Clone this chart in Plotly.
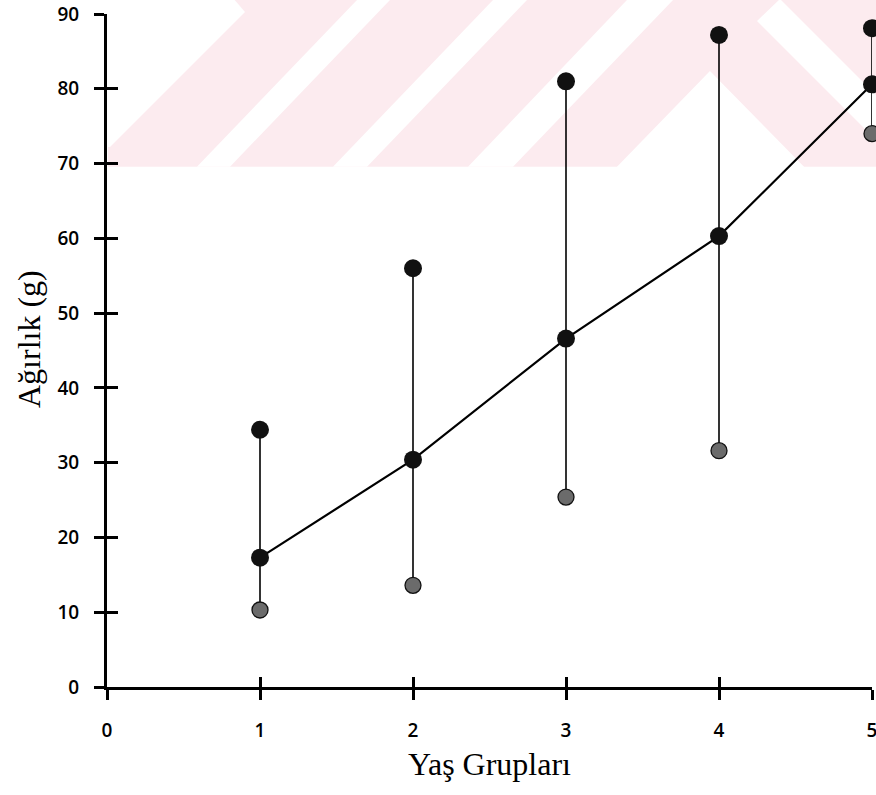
import plotly.graph_objects as go

# Age groups and body weight (g): group mean, maximum and minimum
age_groups = [1, 2, 3, 4, 5]
weight_mean = [17.3, 30.4, 46.6, 60.3, 80.6]
weight_max = [34.4, 56.0, 81.0, 87.2, 88.1]
weight_min = [10.3, 13.6, 25.4, 31.6, 74.0]

x_ticks = [0, 1, 2, 3, 4, 5]
y_ticks = [0, 10, 20, 30, 40, 50, 60, 70, 80, 90]

W, H = 876, 795
ML, MR, MT, MB = 107, 4, 14, 108


def to_paper(px, py):
    """Pixel position on the page -> paper coordinates of the plot area."""
    return (px - ML) / (W - ML - MR), (H - MB - py) / (H - MT - MB)


def poly_path(points):
    pts = [to_paper(px, py) for px, py in points]
    return "M " + " L ".join(f"{x:.4f},{y:.4f}" for x, y in pts) + " Z"


# light pink striped background band along the top of the page
BAND_BOTTOM = 166.7
PINK = "rgb(252,235,239)"
band = [(108, 0), (W + 10, 0), (W + 10, BAND_BOTTOM), (108, BAND_BOTTOM)]
gaps = [
    [(100, -2), (233, -2), (245, 12), (110, 147), (100, 147)],
    [(197, BAND_BOTTOM), (230, BAND_BOTTOM), (390, 0), (357, 0)],
    [(333, BAND_BOTTOM), (367, BAND_BOTTOM), (527, 0), (493, 0)],
    [(468, BAND_BOTTOM), (513, BAND_BOTTOM), (673, 0), (627, 0)],
    [(616, BAND_BOTTOM + 1), (710, 71), (805, BAND_BOTTOM + 1)],
    [(757, 21), (780, -1), (905, 124), (905, 169)],
]

shapes = [dict(type="path", path=poly_path(band), xref="paper", yref="paper",
               fillcolor=PINK, line=dict(width=0), layer="below")]
for g in gaps:
    shapes.append(dict(type="path", path=poly_path(g), xref="paper", yref="paper",
                       fillcolor="white", line=dict(width=0), layer="below"))

# vertical min-max range lines
range_x, range_y = [], []
for g, lo, hi in zip(age_groups, weight_min, weight_max):
    range_x += [g, g, None]
    range_y += [lo, hi, None]

fig = go.Figure()
fig.add_trace(go.Scatter(x=range_x, y=range_y, mode="lines",
                         line=dict(color="black", width=1.6),
                         hoverinfo="skip", cliponaxis=False))
fig.add_trace(go.Scatter(x=age_groups, y=weight_mean, mode="lines",
                         line=dict(color="black", width=2.2), cliponaxis=False))
fig.add_trace(go.Scatter(x=age_groups, y=weight_min, mode="markers", xaxis="x2", yaxis="y2",
                         marker=dict(size=16, color="#6b6b6b",
                                     line=dict(color="#111111", width=1.3)),
                         cliponaxis=False))
fig.add_trace(go.Scatter(x=age_groups, y=weight_max, mode="markers", xaxis="x2", yaxis="y2",
                         marker=dict(size=18, color="#111111", line=dict(width=0)),
                         cliponaxis=False))
fig.add_trace(go.Scatter(x=age_groups, y=weight_mean, mode="markers", xaxis="x2", yaxis="y2",
                         marker=dict(size=18, color="#111111", line=dict(width=0)),
                         cliponaxis=False))

tick_font = dict(family="Open Sans", size=19, color="black", weight=600)
title_font = dict(family="Liberation Serif", size=32, color="black")

ytitle_x, ytitle_y = to_paper(29, 339)

fig.update_layout(
    width=W, height=H,
    margin=dict(l=ML, r=MR, t=MT, b=MB, pad=0),
    template="none",
    paper_bgcolor="white",
    plot_bgcolor="rgba(0,0,0,0)",
    showlegend=False,
    shapes=shapes,
    xaxis=dict(range=[0, 5], tickvals=x_ticks, ticktext=[str(v) for v in x_ticks],
               ticks="outside", ticklen=10, tickwidth=2.5, tickcolor="black",
               showline=True, linewidth=2.5, linecolor="black",
               showgrid=False, zeroline=False, automargin=False,
               ticklabeloverflow="allow",
               tickfont=tick_font, ticklabelstandoff=14,
               title=dict(text="Yaş Grupları", font=title_font, standoff=12)),
    yaxis=dict(range=[0, 90], tickvals=y_ticks, ticktext=[str(v) for v in y_ticks],
               ticks="outside", ticklen=10, tickwidth=2.5, tickcolor="black",
               showline=True, linewidth=3, linecolor="black",
               showgrid=False, zeroline=False, automargin=False,
               ticklabeloverflow="allow",
               tickfont=tick_font, ticklabelstandoff=11),
    xaxis2=dict(overlaying="x", anchor="y", range=[0, 5], tickvals=x_ticks,
                ticks="inside", ticklen=10, tickwidth=2.5, tickcolor="black",
                showticklabels=False, showline=False, showgrid=False, zeroline=False),
    yaxis2=dict(overlaying="y", anchor="x", side="left", range=[0, 90], tickvals=y_ticks,
                ticks="inside", ticklen=11, tickwidth=2.5, tickcolor="black",
                showticklabels=False, showline=False, showgrid=False, zeroline=False),
    annotations=[dict(text="Ağırlık (g)", textangle=-90, font=title_font,
                      xref="paper", yref="paper", x=ytitle_x, y=ytitle_y,
                      xanchor="center", yanchor="middle", showarrow=False)],
)

fig.write_html("out.html")
